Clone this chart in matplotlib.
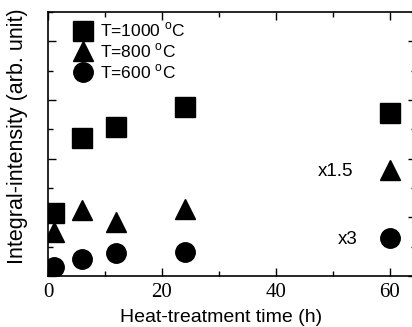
import matplotlib
matplotlib.use("Agg")
import matplotlib.pyplot as plt
from matplotlib.ticker import MultipleLocator, NullFormatter

time_h = [1, 6, 12, 24, 60]
t1000 = [2.15, 4.7, 5.08, 5.76, 5.56]
t800 = [1.5, 2.25, 1.84, 2.28, 3.6]
t600 = [0.3, 0.57, 0.78, 0.82, 1.3]
labels = ["T=1000 $^{\\mathregular{o}}$C", "T=800 $^{\\mathregular{o}}$C", "T=600 $^{\\mathregular{o}}$C"]
xticks = [0, 20, 40, 60]

plt.rcParams['font.family'] = ['Liberation Sans', 'DejaVu Sans']
fig = plt.figure(figsize=(4.12, 3.27), dpi=100)
ax = fig.add_axes([48/412, 51/327, 368/412, 264/327])

ms = 14
ax.plot(time_h, t1000, 's', color='black', ms=ms, label=labels[0])
ax.plot(time_h, t800, '^', color='black', ms=ms, label=labels[1])
ax.plot(time_h, t600, 'o', color='black', ms=ms, label=labels[2])

ax.set_xlim(0, 368/5.7)
ax.set_ylim(0, 9)
ax.set_xticks(xticks)
ax.xaxis.set_minor_locator(MultipleLocator(10))
ax.yaxis.set_major_locator(MultipleLocator(2))
ax.yaxis.set_minor_locator(MultipleLocator(1))
ax.yaxis.set_major_formatter(NullFormatter())
ax.tick_params(which='both', direction='in', top=True, right=True, width=1)
ax.tick_params(which='major', length=6)
ax.tick_params(which='minor', length=3.5)
for lab in ax.get_xticklabels():
    lab.set_family('Liberation Serif')
    lab.set_fontsize(15)
ax.tick_params(axis='x', pad=5)
for s in ax.spines.values():
    s.set_linewidth(1.2)

ax.set_xlabel("Heat-treatment time (h)", fontsize=14)
ax.set_ylabel("Integral-intensity (arb. unit)", fontsize=15.5)
ax.xaxis.set_label_coords(0.47, -0.125)
ax.yaxis.set_label_coords(-0.055, 0.53)

ax.text(50.4, 3.55, "x1.5", fontsize=13.5, ha='center', va='center')
ax.text(52.6, 1.23, "x3", fontsize=13.5, ha='center', va='center')

leg = ax.legend(loc='upper left', frameon=False, fontsize=12.5, handletextpad=0.35,
                labelspacing=0.12, borderaxespad=0.0, borderpad=0.0, handlelength=1.2,
                markerscale=1.0, bbox_to_anchor=(0.067, 0.966))

fig.savefig("out.png", dpi=100)
